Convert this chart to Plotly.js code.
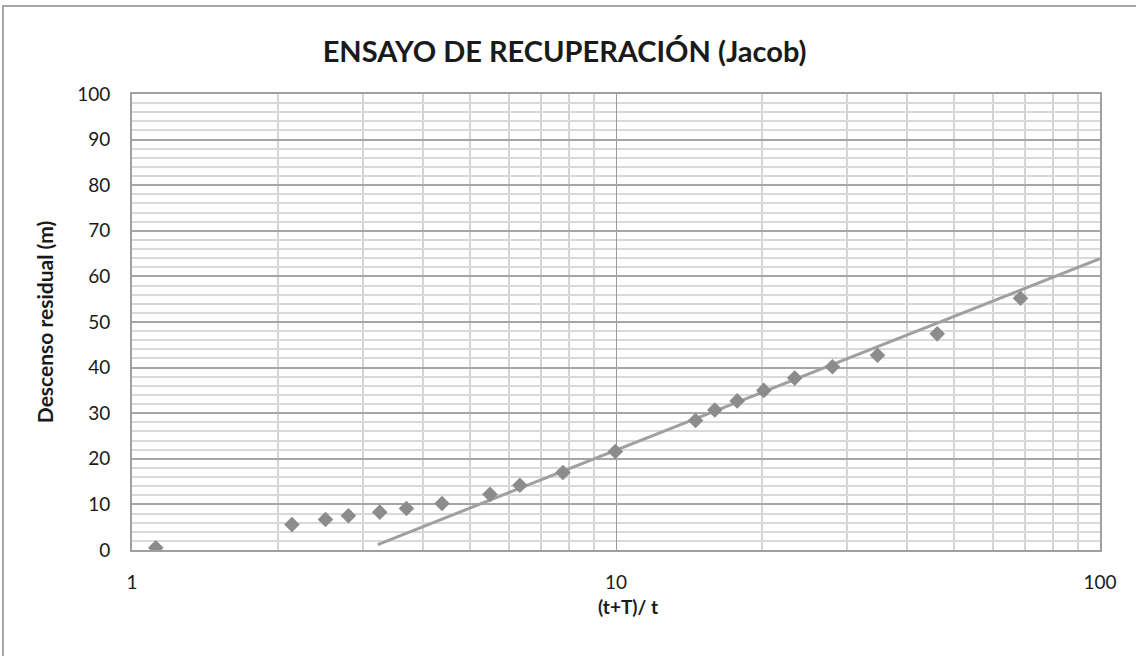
<!DOCTYPE html>
<html>
<head>
<meta charset="utf-8">
<script src="https://cdn.plot.ly/plotly-3.0.1.min.js"></script>
<style>
  html, body { margin: 0; padding: 0; background: #ffffff; }
  #chart { width: 1136px; height: 656px; }
</style>
</head>
<body>
<div id="chart"></div>
<script>
// Recovery test data (Jacob method)
const ratioT = [1.12, 2.14, 2.51, 2.8, 3.25, 3.69, 4.37, 5.49, 6.33, 7.77, 9.97,
                14.6, 16.0, 17.8, 20.2, 23.4, 28.0, 34.7, 46.1, 68.5];
const residualDrawdown = [0.5, 5.6, 6.7, 7.5, 8.3, 9.1, 10.2, 12.2, 14.2, 17.0, 21.6,
                          28.4, 30.7, 32.7, 35.0, 37.7, 40.2, 42.7, 47.4, 55.2];

// Straight-line fit as drawn on the chart (start and end points)
const fitX = [3.22, 100];
const fitY = [1.2, 63.9];

const xTickVals = [1, 10, 100];
const xTickText = ['1', '10', '100'];
const xMinorVals = [2, 3, 4, 5, 6, 7, 8, 9, 20, 30, 40, 50, 60, 70, 80, 90];

const FONT = 'Lato, "Open Sans", sans-serif';

Plotly.newPlot('chart', [
  {
    x: fitX,
    y: fitY,
    type: 'scatter',
    mode: 'lines',
    line: { color: '#a0a0a0', width: 3 },
    hoverinfo: 'skip',
  },
  {
    x: ratioT,
    y: residualDrawdown,
    type: 'scatter',
    mode: 'markers',
    marker: { symbol: 'diamond', color: '#8c8c8c', size: 12 },
    hovertemplate: '%{x}<br>%{y} m<extra></extra>',
  },
], {
  width: 1136,
  height: 656,
  showlegend: false,
  title: {
    text: '<b>ENSAYO DE RECUPERACIÓN (Jacob)</b>',
    font: { family: FONT, size: 29, color: '#1a1a1a' },
    x: 0.497,
    xanchor: 'center',
    y: 0.921,
    yanchor: 'middle',
  },
  xaxis: {
    type: 'log',
    range: [0, 2],
    tickmode: 'array',
    tickvals: xTickVals,
    ticktext: xTickText,
    ticks: '',
    ticklabelstandoff: 14,
    tickfont: { family: FONT, size: 19, color: '#1a1a1a' },
    showgrid: true,
    gridcolor: '#9a9a9a',
    gridwidth: 1,
    minor: { tickmode: 'array', tickvals: xMinorVals, showgrid: true, gridcolor: '#d4d4d4', gridwidth: 2, ticks: '' },
    showline: true,
    linecolor: '#a0a0a0',
    linewidth: 2,
    mirror: true,
    zeroline: false,
    fixedrange: true,
  },
  yaxis: {
    range: [0, 100],
    dtick: 10,
    ticks: '',
    ticklabelstandoff: 16,
    tickfont: { family: FONT, size: 19, color: '#1a1a1a' },
    showgrid: true,
    gridcolor: '#a6a6a6',
    gridwidth: 2,
    minor: { dtick: 2, showgrid: true, gridcolor: '#d9d9d9', gridwidth: 2, ticks: '' },
    showline: true,
    linecolor: '#a0a0a0',
    linewidth: 2,
    mirror: true,
    zeroline: false,
    title: {
      text: '<b>Descenso residual (m)</b>',
      font: { family: FONT, size: 21, color: '#1a1a1a' },
      standoff: 18,
    },
    fixedrange: true,
  },
  annotations: [
    {
      text: '<b>(t+T)/ t</b>',
      xref: 'paper', yref: 'paper',
      x: 0.512, y: -0.124,
      xanchor: 'center', yanchor: 'middle',
      showarrow: false,
      font: { family: FONT, size: 19, color: '#1a1a1a' },
    },
  ],
  shapes: [
    // outer chart frame (only the top and left edges fall inside the picture)
    {
      type: 'rect', xref: 'paper', yref: 'paper',
      x0: -0.1333, x1: 1.2, y0: -0.4, y1: 1.193,
      line: { color: '#a6a6a6', width: 2 },
      layer: 'below',
    },
  ],
  margin: { t: 94, r: 36, l: 132, b: 106 },
  paper_bgcolor: '#ffffff',
  plot_bgcolor: '#ffffff',
}, { displayModeBar: false, staticPlot: true });
</script>
</body>
</html>
